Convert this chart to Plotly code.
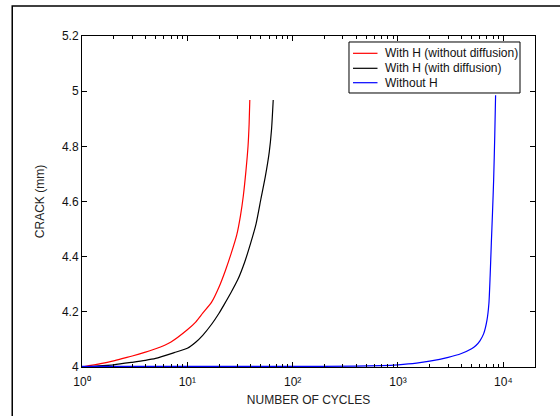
import plotly.graph_objects as go

# ---- data ----
red_x = [1, 1.5, 2, 2.5, 3, 4, 5, 7, 10, 12, 14, 17, 20, 23, 26, 29.5, 32, 34, 36, 37.7, 38.6, 39.2]
red_y = [4.0, 4.012, 4.022, 4.032, 4.04, 4.054, 4.066, 4.091, 4.135, 4.163, 4.195, 4.235, 4.29,
         4.35, 4.41, 4.48, 4.55, 4.62, 4.71, 4.80, 4.88, 4.968]

black_x = [1, 2, 3, 4, 5, 7.5, 10, 12, 14, 17, 20, 22.5, 26, 30, 35, 40, 45, 50, 55, 60, 63, 65.4]
black_y = [4.0, 4.008, 4.017, 4.024, 4.031, 4.052, 4.068, 4.09, 4.115, 4.155, 4.195, 4.228, 4.27,
           4.315, 4.38, 4.45, 4.52, 4.61, 4.69, 4.78, 4.86, 4.968]

blue_x = [1, 10, 100, 400, 700, 1000, 1500, 2000, 3000, 4000, 5000, 5500, 6000, 6500, 7000,
          7300, 7500, 7700, 7900, 8100, 8300, 8450]
blue_y = [4.002, 4.002, 4.002, 4.003, 4.005, 4.008, 4.014, 4.021, 4.035, 4.049, 4.066, 4.078,
          4.095, 4.12, 4.17, 4.23, 4.33, 4.45, 4.56, 4.68, 4.84, 4.985]

names = ["With H (without diffusion)", "With H (with diffusion)", "Without H"]
colors = ["#ff0000", "#000000", "#0000ff"]

x_tickvals = [1, 10, 100, 1000, 10000]
x_ticktext = ["10\u2070", "10\u00b9", "10\u00b2", "10\u00b3", "10\u2074"]
y_tickvals = [4.0, 4.2, 4.4, 4.6, 4.8, 5.0, 5.2]
y_ticktext = ["4", "4.2", "4.4", "4.6", "4.8", "5", "5.2"]

minor_vals = [m * 10 ** e for e in range(0, 5) for m in range(2, 10) if m * 10 ** e <= 20000]

FONT = "Liberation Sans, Arial, sans-serif"

fig = go.Figure()
for xs, ys, nm, c in zip([red_x, black_x, blue_x], [red_y, black_y, blue_y], names, colors):
    fig.add_trace(go.Scatter(x=xs, y=ys, mode="lines", name=nm, showlegend=False,
                             line=dict(color=c, width=1.2, shape="spline", smoothing=0.6)))

axis_common = dict(showline=True, linecolor="black", linewidth=1, mirror="allticks",
                   ticks="inside", ticklen=5, tickcolor="black", showgrid=False, zeroline=False,
                   automargin=False,
                   tickfont=dict(family=FONT, size=12, color="#111"))

fig.update_xaxes(type="log", range=[0, 4.30103], tickvals=x_tickvals, ticktext=x_ticktext,
                 minor=dict(tickvals=minor_vals, ticks="inside", ticklen=3, tickcolor="black",
                            showgrid=False),
                 ticklabelstandoff=4,
                 title=dict(text="NUMBER OF CYCLES", font=dict(family=FONT, size=12, color="#222"),
                            standoff=7),
                 **axis_common)
fig.update_yaxes(range=[4.0, 5.2], tickvals=y_tickvals, ticktext=y_ticktext,
                 title=dict(text="CRACK (mm)", font=dict(family=FONT, size=12, color="#222"),
                            standoff=14),
                 **axis_common)

# manual legend (MATLAB-style compact box)
leg_x0, leg_x1, leg_top, leg_bot = 0.5894, 0.9669, 0.9819, 0.8278
entry_y = [0.9477, 0.9024, 0.8589]
shapes = [dict(type="rect", xref="paper", yref="paper",
               x0=-0.154, y0=-0.6, x1=1.6, y1=1.0906,
               line=dict(color="black", width=1.5), layer="below"),
          dict(type="rect", xref="paper", yref="paper",
               x0=leg_x0, y0=leg_bot, x1=leg_x1, y1=leg_top,
               line=dict(color="black", width=1), fillcolor="white", layer="above")]
annotations = []
for nm, c, ey in zip(names, colors, entry_y):
    shapes.append(dict(type="line", xref="paper", yref="paper",
                       x0=0.5982, x1=0.6523, y0=ey, y1=ey,
                       line=dict(color=c, width=1.2)))
    annotations.append(dict(xref="paper", yref="paper", x=0.6645, y=ey,
                            xanchor="left", yanchor="middle", showarrow=False,
                            text=nm, font=dict(family=FONT, size=12, color="#111")))

fig.update_layout(
    width=560, height=416,
    margin=dict(l=82, r=25, t=36, b=49),
    paper_bgcolor="white", plot_bgcolor="white",
    showlegend=False,
    shapes=shapes,
    annotations=annotations,
)

fig.write_html("out.html")
